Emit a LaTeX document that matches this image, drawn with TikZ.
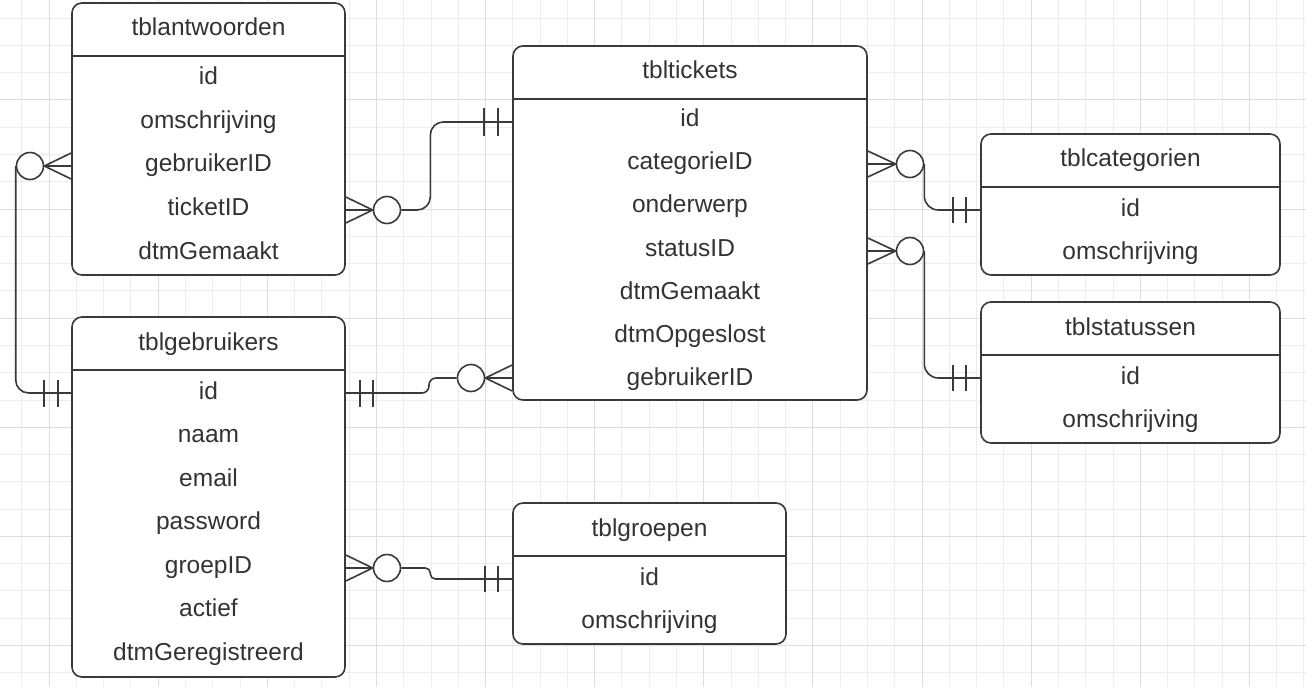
\documentclass[tikz,border=0pt]{standalone}
\usepackage{fontspec}
\setmainfont{Liberation Sans}
\usetikzlibrary{calc}
\definecolor{ln}{HTML}{3A3A3A}
\definecolor{txt}{HTML}{333333}
\definecolor{gridminor}{HTML}{EDEDED}
\definecolor{gridmajor}{HTML}{DEDEDE}

\begin{document}
\begin{tikzpicture}[x=1pt,y=-1pt,
 tbl/.style={draw=ln,line width=1.6pt,fill=white,rounded corners=10pt,inner sep=0pt},
 fld/.style={anchor=base,text=txt,font=\fontsize{24.5}{29}\selectfont},
 rel/.style={draw=ln,line width=1.6pt},
 ring/.style={circle,draw=ln,line width=1.6pt,fill=white,minimum size=27pt,inner sep=0pt}]

	\fill[white] (0,0) rectangle (1306,687);
	\useasboundingbox (0,0) rectangle (1306,687);
	% grid
	\foreach \i in {0,...,47} \draw[gridminor,line width=0.8pt] ({21.7+27.28*\i},0) -- ++(0,687);
	\foreach \i in {0,...,24} \draw[gridminor,line width=0.8pt] (0,{18+27.28*\i}) -- ++(1306,0);
	\foreach \i in {0,...,11} \draw[gridmajor,line width=0.8pt] ({21.7+27.28*(4*\i+1)},0) -- ++(0,687);
	\foreach \i in {0,...,5} \draw[gridmajor,line width=0.8pt] (0,{18+27.28*(4*\i+3)}) -- ++(1306,0);

	% tables
	\node[tbl,minimum width=273pt,minimum height=272pt] (ant) at (208.5,139) {};
	\node[tbl,minimum width=354pt,minimum height=354pt] (tik) at (690,223) {};
	\node[tbl,minimum width=299pt,minimum height=141pt] (cat) at (1130.5,204.5) {};
	\node[tbl,minimum width=299pt,minimum height=141pt] (sta) at (1130.5,372.5) {};
	\node[tbl,minimum width=273pt,minimum height=360pt] (geb) at (208.5,497) {};
	\node[tbl,minimum width=273pt,minimum height=141pt] (grp) at (649.5,573.5) {};
	\foreach \t in {ant,tik,cat,sta,geb,grp}
		\draw[rel] ([yshift=-54pt]\t.north west) -- ([yshift=-54pt]\t.north east);

	\node[fld] (ant-t) at (208.5,36) {tblantwoorden};
	\node[fld] (ant-id) at (208.5,85) {id};
	\node[fld] (ant-oms) at (208.5,128.5) {omschrijving};
	\node[fld] (ant-geb) at (208.5,172) {gebruikerID};
	\node[fld] (ant-tik) at (208.5,215.5) {ticketID};
	\node[fld] (ant-dtm) at (208.5,259) {dtmGemaakt};

	\node[fld] (tik-t) at (690,79) {tbltickets};
	\node[fld] (tik-id) at (690,127) {id};
	\node[fld] (tik-cat) at (690,170) {categorieID};
	\node[fld] (tik-ond) at (690,213) {onderwerp};
	\node[fld] (tik-sta) at (690,256) {statusID};
	\node[fld] (tik-dtm) at (690,299) {dtmGemaakt};
	\node[fld] (tik-opg) at (690,342) {dtmOpgeslost};
	\node[fld] (tik-geb) at (690,385) {gebruikerID};

	\node[fld] (cat-t) at (1130.5,167) {tblcategorien};
	\node[fld] (cat-id) at (1130.5,216) {id};
	\node[fld] (cat-oms) at (1130.5,259.5) {omschrijving};

	\node[fld] (sta-t) at (1130.5,335) {tblstatussen};
	\node[fld] (sta-id) at (1130.5,384) {id};
	\node[fld] (sta-oms) at (1130.5,427.5) {omschrijving};

	\node[fld] (geb-t) at (208.5,350) {tblgebruikers};
	\node[fld] (geb-id) at (208.5,399) {id};
	\node[fld] (geb-naam) at (208.5,442.5) {naam};
	\node[fld] (geb-mail) at (208.5,486) {email};
	\node[fld] (geb-pw) at (208.5,529.5) {password};
	\node[fld] (geb-grp) at (208.5,573) {groepID};
	\node[fld] (geb-act) at (208.5,616.5) {actief};
	\node[fld] (geb-dtm) at (208.5,660) {dtmGeregistreerd};

	\node[fld] (grp-t) at (649.5,536) {tblgroepen};
	\node[fld] (grp-id) at (649.5,585) {id};
	\node[fld] (grp-oms) at (649.5,628.5) {omschrijving};

	% relations
	\coordinate (p1) at (72,393);
	\coordinate (p2) at (513,122);
	\coordinate (p3) at (345,393);
	\coordinate (p4) at (981,210);
	\coordinate (p5) at (981,378);
	\coordinate (p6) at (513,579);

	\node[ring] (r1) at (30,166) {};
	\node[ring] (r2) at (387,210) {};
	\node[ring] (r3) at (471,378) {};
	\node[ring] (r4) at (910,164) {};
	\node[ring] (r5) at (910,251) {};
	\node[ring] (r6) at (387,568) {};

	\foreach \d in {-13,0,13} {
		\draw[rel] (r1.east) -- ($(ant.west |- r1.east)+(0,\d)$);
		\draw[rel] (r2.west) -- ($(ant.east |- r2.west)+(0,\d)$);
		\draw[rel] (r3.east) -- ($(tik.west |- r3.east)+(0,\d)$);
		\draw[rel] (r4.west) -- ($(tik.east |- r4.west)+(0,\d)$);
		\draw[rel] (r5.west) -- ($(tik.east |- r5.west)+(0,\d)$);
		\draw[rel] (r6.west) -- ($(geb.east |- r6.west)+(0,\d)$);
	}

	\draw[rel,rounded corners=13pt] (r1.west) |- (p1);
	\draw[rel,rounded corners=13pt] (r2.east) -- ++(29,0) |- (p2);
	\draw[rel,rounded corners=7pt] (p3) -- ++(84,0) |- (r3.west);
	\draw[rel,rounded corners=14pt] (r4.east) |- (p4);
	\draw[rel,rounded corners=14pt] (r5.east) |- (p5);
	\draw[rel,rounded corners=5pt] (r6.east) -- ++(29,0) |- (p6);

	% bars
	\draw[rel] (44,380) -- (44,407);
	\draw[rel] (58,380) -- (58,407);
	\draw[rel] (484,108) -- (484,136);
	\draw[rel] (498,108) -- (498,136);
	\draw[rel] (360,380) -- (360,407);
	\draw[rel] (373,380) -- (373,407);
	\draw[rel] (953,197) -- (953,223);
	\draw[rel] (966,197) -- (966,223);
	\draw[rel] (953,365) -- (953,391);
	\draw[rel] (966,365) -- (966,391);
	\draw[rel] (485,566) -- (485,592);
	\draw[rel] (498,566) -- (498,592);
\end{tikzpicture}
\end{document}
